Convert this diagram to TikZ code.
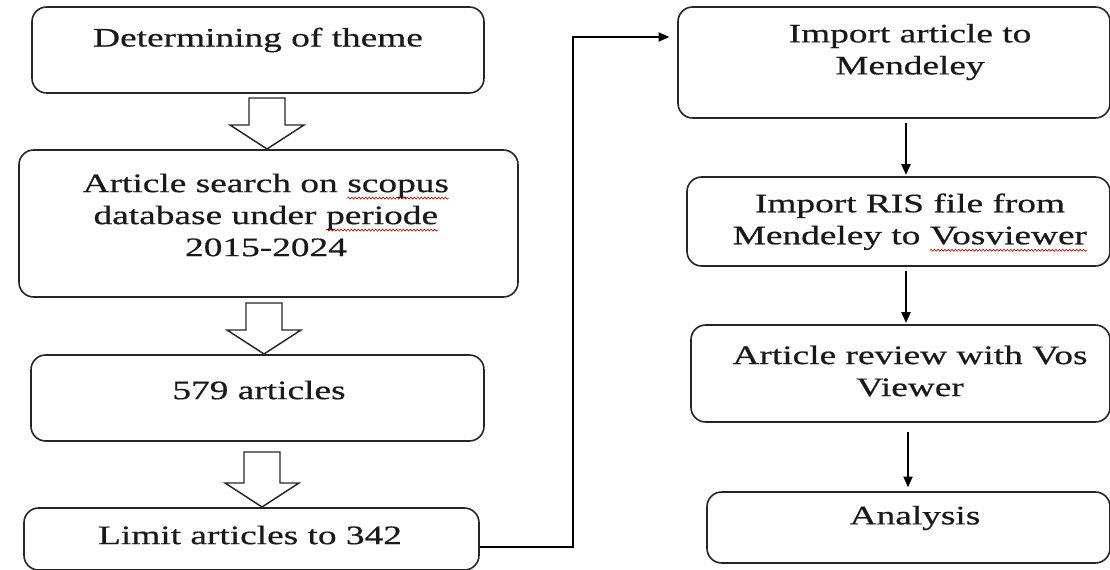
\documentclass[tikz,border=0pt]{standalone}
\usepackage{fontspec}
\setmainfont{Liberation Serif}[FakeStretch=1.4,FakeBold=0.6]
\usetikzlibrary{arrows.meta,calc,decorations.pathmorphing}
\newcommand\spellerr[1]{\tikz[baseline=(w.base)]{\node[inner sep=0pt, outer sep=0pt](w){#1};
  \draw[red!80!black, line width=0.5pt, decorate, decoration={snake, amplitude=0.7pt, segment length=2.6pt}] ([yshift=-4.5pt]w.base west) -- ([yshift=-4.5pt]w.base east);}}
\newcommand\blockarrow[3]{%
  \draw[blockar] ({#1-18},#2) -- ({#1+18},#2) -- ({#1+18},{#3-24}) -- ({#1+37},{#3-24})
    -- (#1,#3) -- ({#1-37},{#3-24}) -- ({#1-18},{#3-24}) -- cycle;}
\tikzset{
  box/.style={draw=black!85, line width=1.2pt, rounded corners=11pt, inner sep=0pt},
  txt/.style={align=center, inner sep=0pt, font=\fontsize{20}{24}\selectfont, text=black!90},
  blockar/.style={draw=black!85, line width=1.1pt, fill=white},
  arr/.style={draw=black, line width=0.9pt, -{Triangle[length=8pt,width=7pt]}},
}
\begin{document}
\begin{tikzpicture}[x=0.75pt, y=-0.75pt]
\useasboundingbox (0,0) rectangle (1110,570);
% left column
\node[box, minimum width=452*0.75pt, minimum height=86*0.75pt] (b1) at (258,50) {};
\node[txt] (t1) at (258,40) {Determining of theme};
\node[box, minimum width=499*0.75pt, minimum height=147*0.75pt] (b2) at (268.5,223.5) {};
\node[txt] (t2) at (266,215) {Article search on \spellerr{scopus}\\database under \spellerr{periode}\\2015-2024};
\node[box, minimum width=453*0.75pt, minimum height=86*0.75pt] (b3) at (257.5,398) {};
\node[txt] (t3) at (259,390) {579 articles};
\node[box, minimum width=455*0.75pt, minimum height=62*0.75pt] (b4) at (251.5,539) {};
\node[txt] (t4) at (250,535) {Limit articles to 342};
\blockarrow{267}{98}{149}
\blockarrow{264}{303}{354}
\blockarrow{262}{452}{507}
% right column
\node[box, minimum width=432*0.75pt, minimum height=111*0.75pt] (r1) at (894,62.5) {};
\node[txt] (s1) at (910,52) {Import article to\\Mendeley};
\node[box, minimum width=423*0.75pt, minimum height=89*0.75pt] (r2) at (898.5,221.5) {};
\node[txt] (s2) at (910,222.5) {Import RIS file from\\Mendeley to \spellerr{Vosviewer}};
\node[box, minimum width=419*0.75pt, minimum height=97*0.75pt] (r3) at (900.5,373.5) {};
\node[txt] (s3) at (910,371) {Article review with Vos\\Viewer};
\node[box, minimum width=403*0.75pt, minimum height=71*0.75pt] (r4) at (908.5,527.5) {};
\node[txt] (s4) at (915,518) {Analysis};
% connectors
\coordinate (c1) at (573,37);
\coordinate (ax1) at (906,0);
\coordinate (ax2) at (908,0);
\draw[arr, line width=0.8pt, shorten >=6pt] ($(b4.east)+(0,8)$) -| (c1) -- (c1 -| r1.west);
\draw[arr, shorten <=3pt, shorten >=1pt] (r1.south -| ax1) -- (r2.north -| ax1);
\draw[arr, shorten <=3pt, shorten >=1pt] (r2.south -| ax1) -- (r3.north -| ax1);
\draw[arr, shorten <=7pt, shorten >=3pt] (r3.south -| ax2) -- (r4.north -| ax2);
\end{tikzpicture}
\end{document}
